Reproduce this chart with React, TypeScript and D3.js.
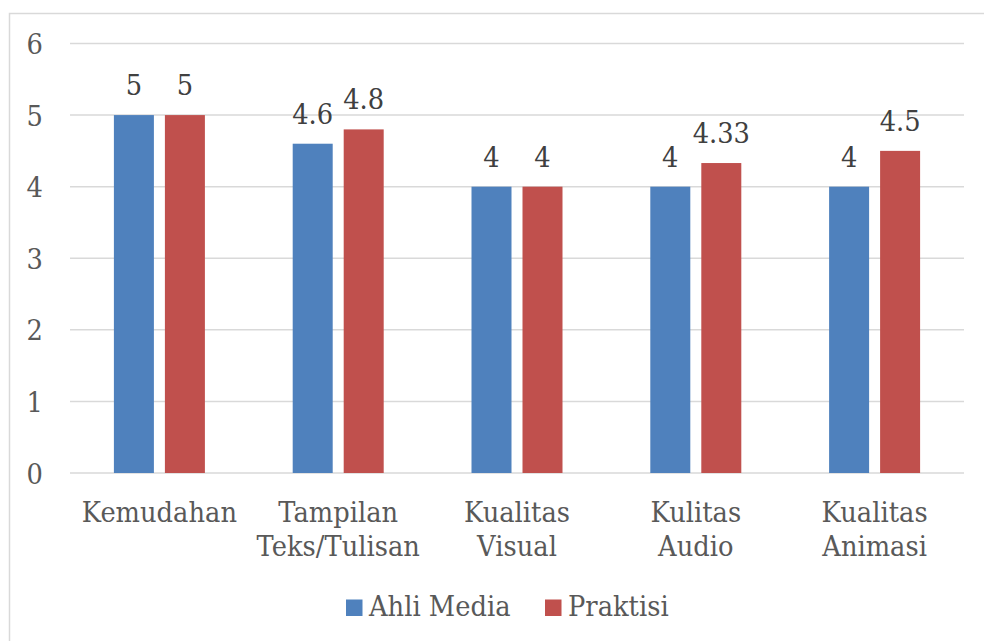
import React from "react";
import * as d3 from "d3";

const categories: string[][] = [
  ["Kemudahan"],
  ["Tampilan", "Teks/Tulisan"],
  ["Kualitas", "Visual"],
  ["Kulitas", "Audio"],
  ["Kualitas", "Animasi"],
];
const seriesNames = ["Ahli Media", "Praktisi"];
const ahliMedia = [5, 4.6, 4, 4, 4];
const praktisi = [5, 4.8, 4, 4.33, 4.5];
const yTicks = [0, 1, 2, 3, 4, 5, 6];
const colors = ["#4F81BD", "#C0504D"];

const W = 984;
const H = 641;
const FONT = "'DejaVu Serif', serif";
const SX = 0.92;

function T(props: {
  x: number;
  y: number;
  anchor?: "start" | "middle" | "end";
  fill: string;
  children: React.ReactNode;
}) {
  return (
    <text
      transform={`translate(${props.x},${props.y}) scale(${SX},1)`}
      textAnchor={props.anchor || "start"}
      style={{ fontFamily: FONT, fontSize: "28px" }}
      fill={props.fill}
    >
      {props.children}
    </text>
  );
}

export default function App() {
  const x0 = d3
    .scaleBand<number>()
    .domain(categories.map((_, i) => i))
    .range([70, 964]);
  const y = d3.scaleLinear().domain([0, 6]).range([473, 43.5]);
  const series = [ahliMedia, praktisi];
  const barW = 40;
  const gap = 11;

  const legendItems = [
    { x: 346, name: seriesNames[0], color: colors[0] },
    { x: 545, name: seriesNames[1], color: colors[1] },
  ];

  return (
    <svg
      width={W}
      height={H}
      style={{ position: "fixed", left: 0, top: 0, background: "#fff", fontFamily: FONT }}
    >
      <rect x={0} y={0} width={W} height={H} fill="#fff" />
      <rect x={9.5} y={13.5} width={W + 10} height={H + 10} fill="none" stroke="#d9d9d9" strokeWidth={1.5} />
      {yTicks.map((t) => (
        <g key={t}>
          <line x1={70} x2={964} y1={y(t)} y2={y(t)} stroke="#d9d9d9" strokeWidth={1.5} />
          <T x={43} y={y(t) + 10.5} anchor="end" fill="#595959">
            {t}
          </T>
        </g>
      ))}
      {categories.map((cat, i) => {
        const cx = (x0(i) as number) + x0.bandwidth() / 2;
        return (
          <g key={i}>
            {series.map((s, k) => {
              const bx = k === 0 ? cx - gap / 2 - barW : cx + gap / 2;
              const v = s[i];
              return (
                <g key={k}>
                  <rect x={bx} y={y(v)} width={barW} height={y(0) - y(v)} fill={colors[k]} />
                  <T x={bx + barW / 2} y={y(v) - 20} anchor="middle" fill="#404040">
                    {String(v)}
                  </T>
                </g>
              );
            })}
            {cat.map((line, j) => (
              <T key={j} x={cx} y={522 + j * 34} anchor="middle" fill="#595959">
                {line}
              </T>
            ))}
          </g>
        );
      })}
      {legendItems.map((it) => (
        <g key={it.name}>
          <rect x={it.x} y={599.5} width={16.5} height={16.5} fill={it.color} />
          <T x={it.x + 23} y={616} fill="#595959">
            {it.name}
          </T>
        </g>
      ))}
    </svg>
  );
}
